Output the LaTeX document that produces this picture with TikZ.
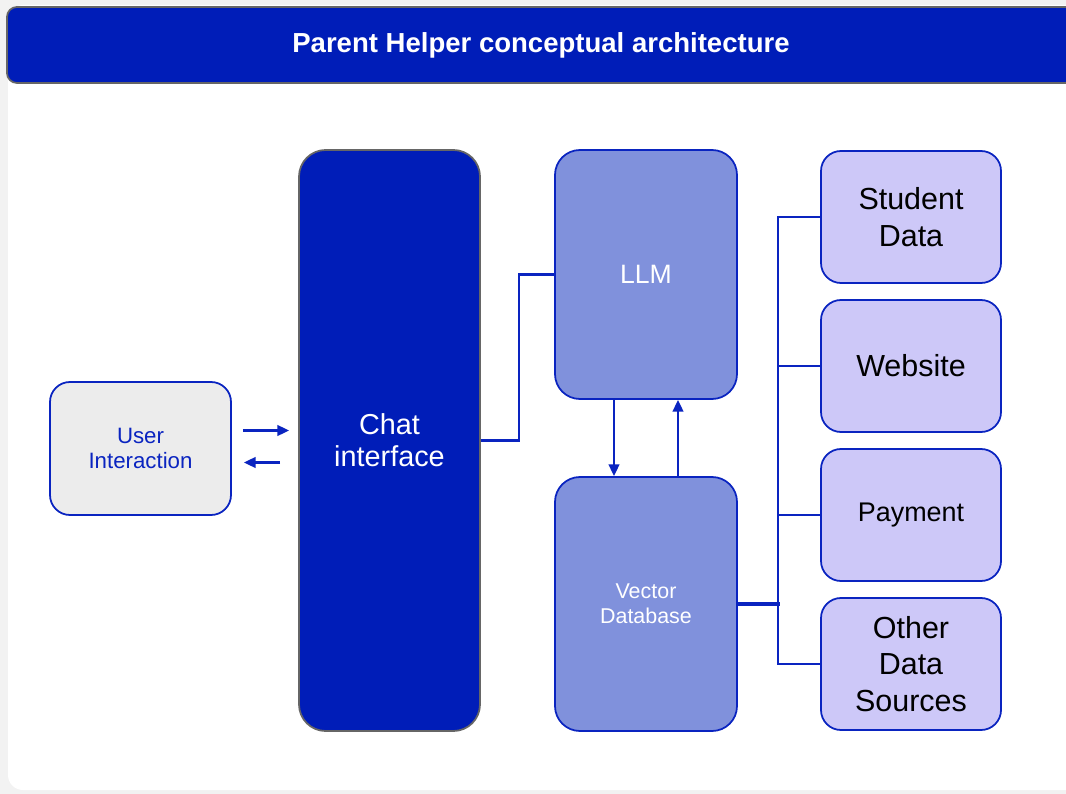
\documentclass[tikz,border=0pt]{standalone}
\usepackage{fontspec}
\setmainfont{Liberation Sans}
\usetikzlibrary{arrows.meta,calc}

\definecolor{navy}{HTML}{001DB8}
\definecolor{wireblue}{HTML}{0A24C0}
\definecolor{midblue}{HTML}{8091DC}
\definecolor{lavender}{HTML}{CDC8F8}
\definecolor{pagegray}{HTML}{F2F2F2}
\definecolor{edgegray}{HTML}{666666}

\tikzset{
  userbox/.style={draw=wireblue, line width=1.5pt, fill=gray!15, rounded corners=0.6cm,
    minimum width=5.43cm, minimum height=3.99cm, align=center, text=wireblue,
    font=\fontsize{19}{22}\selectfont},
  chatbox/.style={draw=edgegray, line width=1.5pt, fill=navy, rounded corners=0.8cm,
    minimum width=5.43cm, minimum height=17.43cm, align=center, text=white,
    font=\fontsize{24.6}{27}\selectfont},
  engine/.style={draw=wireblue, line width=1.5pt, fill=midblue, rounded corners=0.75cm,
    minimum width=5.46cm, align=center, text=white},
  store/.style={draw=wireblue, line width=1.5pt, fill=lavender, rounded corners=0.6cm,
    minimum width=5.4cm, minimum height=3.96cm, align=center, text=black,
    font=\fontsize{26}{31}\selectfont},
  wire/.style={draw=wireblue, line width=2pt},
  arr/.style={wire, -{Triangle[length=10pt,width=9pt]}},
}

\begin{document}
\begin{tikzpicture}[x=0.03cm, y=-0.03cm]
\useasboundingbox (0,0) rectangle (1066,794);
% page and panel
\fill[pagegray] (0,0) rectangle (1066,794);
\fill[white, rounded corners=0.45cm] (8,5) rectangle (1110,790);
% title bar
\node[draw=edgegray, line width=1.5pt, fill=navy, rounded corners=0.3cm,
  minimum width=32.04cm, minimum height=2.28cm, text=white,
  font=\bfseries\fontsize{23.5}{27}\selectfont] (title) at (541,45) {Parent Helper conceptual architecture};

% main blocks
\node[userbox] (ui) at (140.5,448.5) {User\\Interaction};
\node[chatbox] (chat) at (389.5,440.5) {Chat\\interface};
\node[engine, minimum height=7.47cm, font=\fontsize{22.7}{26}\selectfont] (llm) at (646,274.5) {LLM};
\node[engine, minimum height=7.62cm, font=\fontsize{18.3}{21}\selectfont] (vd) at (646,604) {Vector\\Database};

% data sources
\node[store] (sd) at (911,217) {Student\\Data};
\node[store] (ws) at (911,366) {Website};
\node[store, font=\fontsize{23}{28}\selectfont] (pay) at (911,515) {Payment};
\node[store] (ods) at (911,664) {Other\\Data\\Sources};

% user <-> chat
\draw[arr] ($(ui.east)+(11,-18)$) -- ($(ui.east -| chat.west)+(-9,-18)$);
\draw[arr] ($(ui.east -| chat.west)+(-18,14)$) -- ($(ui.east)+(12,14)$);

% chat -> llm
\draw[wire] (chat.east) -- ++(38,0) |- (llm.west);

% llm <-> vector db
\draw[arr] ([xshift=-0.96cm]llm.south) -- ([xshift=-0.96cm]vd.north);
\draw[arr] ([xshift=0.96cm]vd.north) -- ([xshift=0.96cm]llm.south);

% bus to sources
\draw[wire] (sd.west) -- ++(-42,0) |- (ods.west);
\draw[wire] (ws.west) -- ++(-42,0);
\draw[wire] (pay.west) -- ++(-42,0);
\draw[wire, line width=2.6pt] (vd.east) -- ++(42,0);
\end{tikzpicture}
\end{document}
